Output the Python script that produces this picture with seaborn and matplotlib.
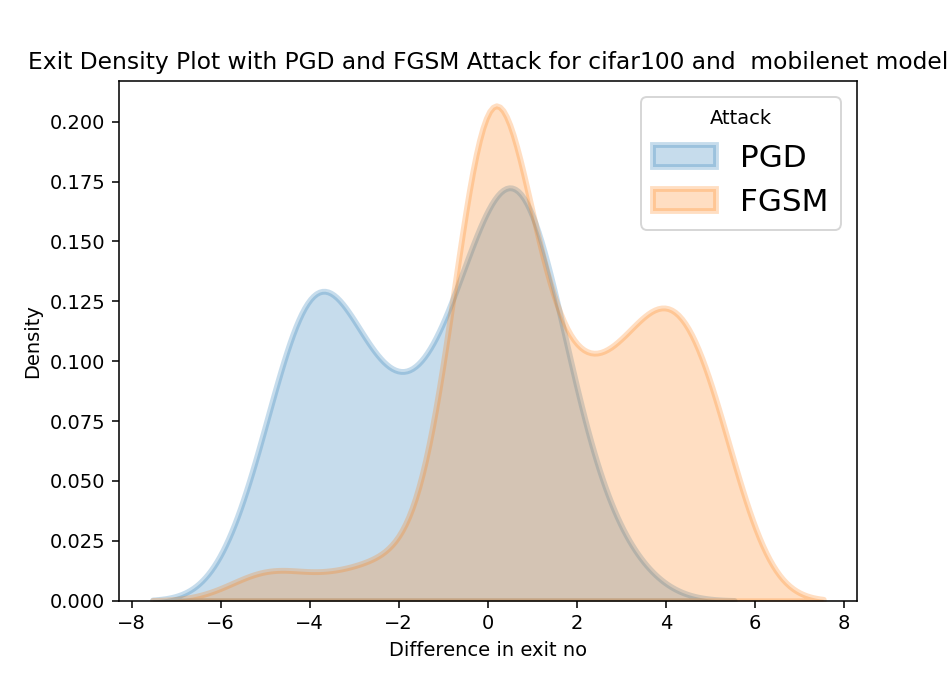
"""
Exit density plot for PGD vs FGSM attacks (cifar100, mobilenet)
"""

import numpy as np
import pandas as pd
import matplotlib
matplotlib.use("Agg")
import matplotlib.pyplot as plt
import seaborn as sns

# difference in exit number -> how many samples had it
PGD_DIFFS = [-5, -4, -3, -2, -1, 0, 1, 2, 3]
PGD_COUNTS = [8, 23, 15, 10, 13, 24, 28, 8, 3]

FGSM_DIFFS = [-5, -4, -3, -2, -1, 0, 1, 2, 3, 4, 5]
FGSM_COUNTS = [3, 1, 2, 3, 2, 51, 16, 13, 14, 21, 16]

ATTACKS = ["PGD", "FGSM"]
TITLE = "Exit Density Plot with PGD and FGSM Attack for cifar100 and  mobilenet model"
ALPHA = 0.25


def build_frame():
    pgd = np.repeat(PGD_DIFFS, PGD_COUNTS)
    fgsm = np.repeat(FGSM_DIFFS, FGSM_COUNTS)
    return pd.DataFrame({
        "Difference in exit no": np.concatenate([pgd, fgsm]),
        "Attack": [ATTACKS[0]] * len(pgd) + [ATTACKS[1]] * len(fgsm),
    })


def main():
    df = build_frame()

    fig, ax = plt.subplots(figsize=(952 / 140, 675 / 140), dpi=140)
    sns.kdeplot(
        data=df, x="Difference in exit no", hue="Attack", hue_order=ATTACKS,
        fill=True, common_norm=False, linewidth=3, ax=ax,
    )
    # edges are as faint as the fill in the original
    for coll in ax.collections:
        coll.set_alpha(ALPHA)
    # seaborn draws the last hue level first -> lift FGSM above PGD
    ax.collections[0].set_zorder(ax.collections[1].get_zorder() + 0.1)

    sns.move_legend(ax, "upper right", fontsize=16)
    for handle in ax.get_legend().legend_handles:
        handle.set_alpha(ALPHA)

    ax.set_title(TITLE)
    fig.savefig("out.png", dpi=140)


if __name__ == "__main__":
    main()
